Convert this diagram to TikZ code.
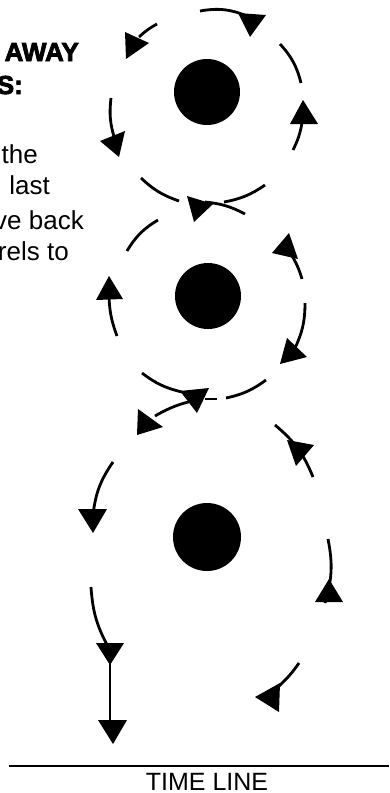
\documentclass[tikz,border=0pt]{standalone}
\usepackage{fontspec}
\setmainfont{Liberation Sans}[BoldFeatures={FakeBold=3}]
\begin{document}
\begin{tikzpicture}[x=1pt,y=-1pt,
  arcline/.style={line width=2.8pt},
  headfill/.style={fill=black},
  dotfill/.style={fill=black},
  headtext/.style={inner sep=0pt,anchor=base east,font=\fontsize{26}{30}\selectfont\bfseries},
  bodytext/.style={inner sep=0pt,anchor=base east,font=\fontsize{26}{30}\selectfont},
  timetext/.style={inner sep=0pt,anchor=base,text depth=0pt,font=\fontsize{25}{30}\selectfont}]
\useasboundingbox (0,0) rectangle (389,793);
\clip (0,0) rectangle (389,793);
% text
\node[headtext] (h1) at (79,61) {AWAY};
\node[headtext] (h2) at (23,94) {S:};
\node[bodytext] (b1) at (38,163) {the};
\node[bodytext] (b2) at (50,194.5) {last};
\node[bodytext] (b3) at (84,229) {ve back};
\node[bodytext] (b4) at (69,260) {rels to};
% dots
\fill[dotfill] (207,92) circle (33);
\fill[dotfill] (208,296) circle (33);
\fill[dotfill] (207,537) circle (34);
% top circle
\draw[arcline] (200,11) to[bend left=16] (247,16);
\fill[headfill] (238,13)--(266,15)--(250,37)--cycle;
\draw[arcline] (157,24) to[bend right=7] (139,37);
\fill[headfill] (125,32)--(149,43)--(126,59)--cycle;
\draw[arcline] (280,44) to[bend left=14] (301,83);
\draw[arcline] (293,150) to[bend right=8] (302,123);
\fill[headfill] (290,124)--(303,100)--(318,124)--cycle;
\draw[arcline] (111,98) to[bend right=12] (115,140);
\fill[headfill] (100,141)--(125,131)--(119,157)--cycle;
\draw[arcline] (141,178) to[bend right=12] (179,201);
\draw[arcline] (224,202) to[bend right=12] (265,185);
% middle circle
\draw[arcline] (245,214) to[bend right=11] (205,202);
\fill[headfill] (187,196)--(213,204)--(194,222)--cycle;
\draw[arcline] (158,220) to[bend right=14] (127,251);
\draw[arcline] (117,336) to[bend left=10] (109,292);
\fill[headfill] (96,300)--(109,276)--(123,299)--cycle;
\draw[arcline] (302,279) to[bend right=7] (291,254);
\fill[headfill] (272,253)--(289,233)--(298,259)--cycle;
\draw[arcline] (305,303) to[bend left=13] (294,350);
\fill[headfill] (287,338)--(307,357)--(280,364)--cycle;
\draw[arcline] (142,373) to[bend right=12] (182,392);
\fill[headfill] (180,391)--(209,388)--(197,413)--cycle;
\draw[arcline] (205,399) -- (217,399);
\draw[arcline] (226,398) to[bend right=12] (266,380);
\draw[arcline] (197,400) to[bend right=9] (155,416);
\fill[headfill] (138,409)--(163,427)--(137,435)--cycle;
% bottom circle
\draw[arcline] (275,425) to[bend left=14] (313,477);
\fill[headfill] (287,440)--(314,445)--(296,466)--cycle;
\draw[arcline] (113,462) to[bend right=14] (93,515);
\fill[headfill] (78,509)--(107,509)--(93,533)--cycle;
\draw[arcline] (328,539) to[bend left=14] (325,603);
\fill[headfill] (315,602)--(329,579)--(343,602)--cycle;
\draw[arcline] (91,587) to[bend right=13] (110,650);
\fill[headfill] (96,643)--(124,643)--(110,665)--cycle;
\draw[arcline] (110,660) -- (110,725);
\fill[headfill] (98,720)--(127,720)--(113,744)--cycle;
\draw[arcline] (299,663) to[bend left=6] (279,686);
\fill[headfill] (255,697)--(280,683)--(279,712)--cycle;
% time line
\draw[line width=2.2pt] (9,766) -- (389,766);
\node[timetext] (tl) at (207,790) {TIME LINE};
\end{tikzpicture}
\end{document}
